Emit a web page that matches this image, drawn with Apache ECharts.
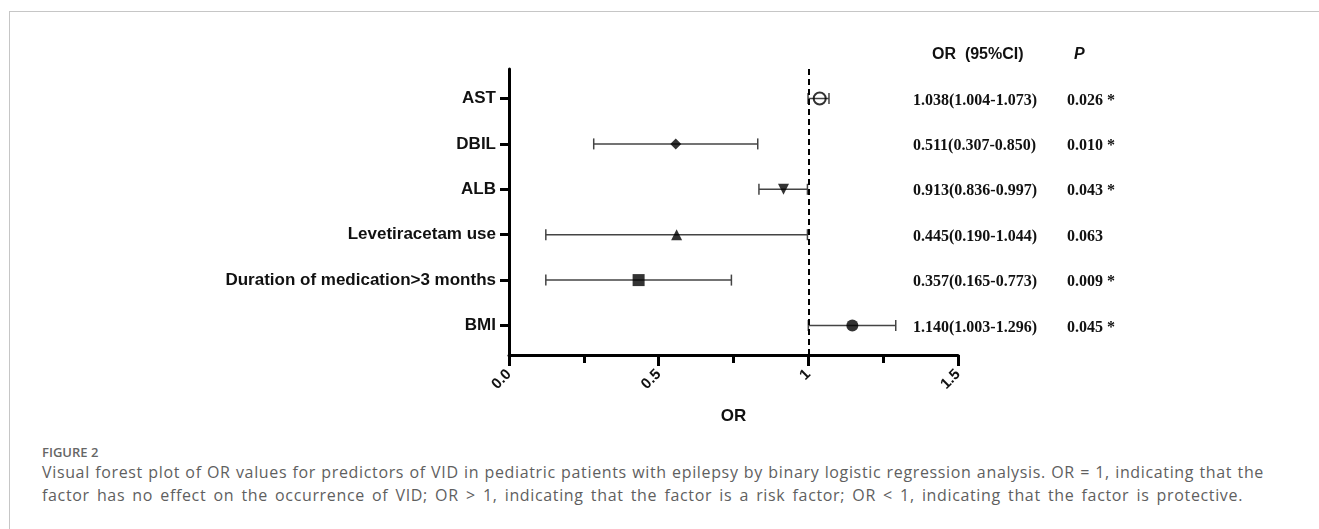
<!DOCTYPE html>
<html>
<head>
<meta charset="utf-8">
<script src="https://cdn.jsdelivr.net/npm/echarts@6/dist/echarts.min.js"></script>
<style>
  body { margin: 0; background: #fff; }
  #frame { position: absolute; left: 9px; top: 11px; right: 0; bottom: 0; border-left: 1px solid #c6c6c6; border-top: 1px solid #c6c6c6; }
  #chart { position: absolute; left: 0; top: 0; width: 1319px; height: 430px; }
  .cap { position: absolute; left: 42px; font-family: "Open Sans", sans-serif; color: #5f5f5f; white-space: nowrap; }
  #figno { top: 443px; font-size: 13px; font-weight: 600; color: #666; }
  #line1 { top: 461px; width: 1222px; font-size: 16px; letter-spacing: 0.65px; text-align: justify; text-align-last: justify; }
  #line2 { top: 484px; width: 1201px; font-size: 16px; letter-spacing: 0.65px; text-align: justify; text-align-last: justify; }
</style>
</head>
<body>
<div id="frame"></div>
<div id="chart"></div>
<div class="cap" id="figno">FIGURE 2</div>
<div class="cap" id="line1">Visual forest plot of OR values for predictors of VID in pediatric patients with epilepsy by binary logistic regression analysis. OR = 1, indicating that the</div>
<div class="cap" id="line2">factor has no effect on the occurrence of VID; OR &gt; 1, indicating that the factor is a risk factor; OR &lt; 1, indicating that the factor is protective.</div>
<script>
// 数据
var factors = ['AST', 'DBIL', 'ALB', 'Levetiracetam use', 'Duration of medication>3 months', 'BMI'];
var orPoint = [1.038, 0.557, 0.917, 0.560, 0.433, 1.147];
var ciLow = [0.999, 0.283, 0.835, 0.123, 0.123, 1.000];
var ciHigh = [1.069, 0.831, 0.997, 0.997, 0.743, 1.292];
var orText = ['1.038(1.004-1.073)', '0.511(0.307-0.850)', '0.913(0.836-0.997)', '0.445(0.190-1.044)', '0.357(0.165-0.773)', '1.140(1.003-1.296)'];
var pText = ['0.026 *', '0.010 *', '0.043 *', '0.063', '0.009 *', '0.045 *'];
var xLabelValues = [0, 0.5, 1, 1.5];
var xLabelText = ['0.0', '0.5', '1', '1.5'];

// 标记样式
var markerStyle = [
  {symbol: 'circle', size: 12, rotate: 0, hollow: true},
  {symbol: 'diamond', size: 11, rotate: 0},
  {symbol: 'triangle', size: 11, rotate: 180},
  {symbol: 'triangle', size: 11, rotate: 0},
  {symbol: 'rect', size: 12, rotate: 0},
  {symbol: 'circle', size: 12, rotate: 0}
];

var chart = echarts.init(document.getElementById('chart'));

var rowIdx = factors.map(function (f, i) { return i; });

var option = {
  animation: false,
  backgroundColor: 'transparent',
  grid: {left: 509, right: 361, top: 69, bottom: 70},
  xAxis: {
    type: 'value',
    min: 0,
    max: 1.5,
    interval: 0.5,
    name: 'OR',
    nameLocation: 'middle',
    nameGap: 53,
    nameTextStyle: {fontFamily: 'Liberation Sans', fontWeight: 'bold', fontSize: 17, color: '#111'},
    axisLine: {show: true, onZero: false, lineStyle: {color: '#000', width: 3}},
    axisTick: {show: true, length: 11, lineStyle: {color: '#000', width: 3}},
    minorTick: {show: true, splitNumber: 2, length: 8, lineStyle: {color: '#000', width: 3}},
    splitLine: {show: false},
    axisLabel: {
      rotate: 45,
      margin: 17,
      fontFamily: 'Liberation Sans',
      fontWeight: 'bold',
      fontSize: 15,
      color: '#111',
      customValues: xLabelValues,
      formatter: function (v) {
        var k = xLabelValues.indexOf(v);
        return k >= 0 ? xLabelText[k] : '';
      }
    }
  },
  yAxis: {
    type: 'value',
    min: -0.65,
    max: 5.65,
    inverse: true,
    axisLine: {show: true, onZero: false, lineStyle: {color: '#000', width: 3}},
    axisTick: {show: true, length: 9, customValues: rowIdx, lineStyle: {color: '#000', width: 3}},
    splitLine: {show: false},
    axisLabel: {
      margin: 13,
      fontFamily: 'Liberation Sans',
      fontWeight: 'bold',
      fontSize: 17,
      color: '#111',
      customValues: rowIdx,
      formatter: function (v) { return factors[Math.round(v)]; }
    }
  },
  graphic: [
    {type: 'text', left: 932, top: 47, style: {text: 'OR  (95%CI)', font: 'bold 16px "Liberation Sans"', fill: '#111'}},
    {type: 'text', left: 1074, top: 47, style: {text: 'P', font: 'italic bold 16px "Liberation Sans"', fill: '#111'}}
  ],
  series: [
    {
      // 置信区间
      type: 'custom',
      z: 2,
      data: factors.map(function (f, i) { return [i, ciLow[i], ciHigh[i]]; }),
      encode: {x: [1, 2], y: 0},
      renderItem: function (params, api) {
        var y = api.value(0);
        var p1 = api.coord([api.value(1), y]);
        var p2 = api.coord([api.value(2), y]);
        var h = 5.5;
        var st = {stroke: '#444', lineWidth: 1.5};
        return {
          type: 'group',
          children: [
            {type: 'line', shape: {x1: p1[0], y1: p1[1], x2: p2[0], y2: p2[1]}, style: st},
            {type: 'line', shape: {x1: p1[0], y1: p1[1] - h, x2: p1[0], y2: p1[1] + h}, style: st},
            {type: 'line', shape: {x1: p2[0], y1: p2[1] - h, x2: p2[0], y2: p2[1] + h}, style: st}
          ]
        };
      },
      markLine: {
        silent: true,
        symbol: 'none',
        label: {show: false},
        lineStyle: {color: '#000', width: 2, type: [6, 4]},
        data: [{xAxis: 1}]
      }
    },
    {
      // OR 点
      type: 'scatter',
      z: 3,
      data: factors.map(function (f, i) {
        var m = markerStyle[i];
        return {
          value: [orPoint[i], i],
          symbol: m.symbol,
          symbolSize: m.size,
          symbolRotate: m.rotate,
          itemStyle: m.hollow ? {color: 'transparent', borderColor: '#000', borderWidth: 2} : {color: '#000'}
        };
      })
    },
    {
      // 右侧表格
      type: 'custom',
      z: 4,
      data: factors.map(function (f, i) { return [0, i]; }),
      encode: {x: 0, y: 1},
      renderItem: function (params, api) {
        var i = params.dataIndex;
        var py = api.coord([0, api.value(1)])[1] + 2;
        var font = 'bold 16px "Liberation Serif"';
        return {
          type: 'group',
          children: [
            {type: 'text', x: 913, y: py, style: {text: orText[i], font: font, fill: '#111', verticalAlign: 'middle'}},
            {type: 'text', x: 1067, y: py, style: {text: pText[i], font: font, fill: '#111', verticalAlign: 'middle'}}
          ]
        };
      }
    }
  ]
};

chart.setOption(option);
</script>
</body>
</html>
